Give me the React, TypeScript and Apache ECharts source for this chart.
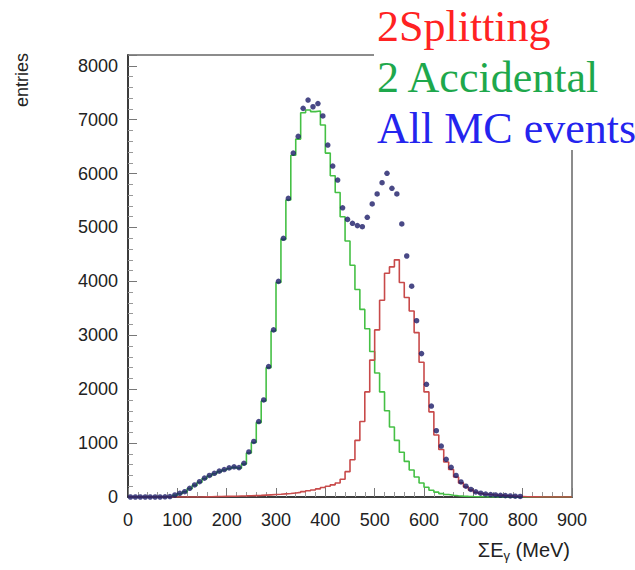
import React, { useEffect, useRef } from "react";
import * as echarts from "echarts";

// Histogram bins: 10 MeV wide, lower edges 0 .. 890
const BIN_WIDTH = 10;
const X_MAX = 900;

// 2 Splitting (red histogram), per bin
const splitting = [
  0, 0, 0, 0, 0, 0, 0, 0, 0, 0,
  0, 0, 0, 0, 0, 3, 5, 7, 9, 11,
  13, 15, 18, 20, 23, 26, 30, 35, 40, 45,
  50, 58, 65, 75, 85, 100, 115, 130, 150, 175,
  200, 225, 260, 330, 470, 690, 1050, 1400, 1950, 2540,
  3100, 3650, 4150, 4270, 4400, 3980, 3700, 3450, 3050, 2500,
  1950, 1580, 1150, 880, 650, 510, 370, 262, 185, 128,
  88, 65, 51, 42, 35, 30, 24, 18, 13, 9,
  5, 3, 2, 1, 0, 0, 0, 0, 0, 0,
];

// 2 Accidental (green histogram), per bin
const accidental = [
  0, 0, 0, 0, 0, 0, 0, 0, 0, 30,
  60, 95, 155, 215, 275, 340, 390, 430, 470, 500,
  530, 550, 535, 610, 815, 1010, 1380, 1780, 2400, 3080,
  3980, 4780, 5510, 6340, 6640, 7130, 7180, 7150, 7160, 6900,
  6380, 5960, 5650, 5200, 4750, 4300, 3850, 3480, 3120, 2700,
  2300, 1950, 1600, 1300, 1050, 830, 660, 500, 370, 260,
  180, 125, 90, 62, 45, 32, 24, 17, 12, 8,
  6, 4, 2, 1, 0, 0, 0, 0, 0, 0,
  0, 0, 0, 0, 0, 0, 0, 0, 0, 0,
];

// All MC events (points), per bin (bins 0 .. 790 MeV)
const allMC = [
  0, 0, 0, 0, 0, 0, 0, 3, 8, 37,
  68, 98, 161, 223, 284, 350, 400, 440, 480, 510,
  540, 560, 545, 625, 835, 1030, 1400, 1800, 2420, 3100,
  4000, 4800, 5540, 6380, 6690, 7210, 7365, 7240, 7300, 7070,
  6530, 6140, 5880, 5365, 5150, 5078, 5035, 5015, 5189, 5436,
  5622, 5831, 6006, 5727, 5622, 5065, 4471, 3910, 3270, 2660,
  2090, 1688, 1230, 946, 700, 550, 400, 280, 200, 140,
  95, 70, 55, 45, 38, 32, 26, 20, 15, 10,
];

const xTicks = [0, 100, 200, 300, 400, 500, 600, 700, 800, 900];
const yTicks = [0, 1000, 2000, 3000, 4000, 5000, 6000, 7000, 8000];

const legendItems = [
  { text: "2Splitting", color: "#ff2222" },
  { text: "2 Accidental", color: "#1ea84c" },
  { text: "All MC events", color: "#2424ee" },
];

function histSteps(values: number[]) {
  const pts: number[][] = values.map((v, i) => [i * BIN_WIDTH, v]);
  pts.push([values.length * BIN_WIDTH, values[values.length - 1]]);
  return pts;
}

export default function App() {
  const ref = useRef<HTMLDivElement>(null);

  useEffect(() => {
    if (!ref.current) return;
    const chart = echarts.init(ref.current, undefined, { renderer: "svg" });
    const sans = "Liberation Sans, Arial, sans-serif";
    const serif = "Liberation Serif, Times New Roman, serif";

    const option: any = {
      animation: false,
      backgroundColor: "#ffffff",
      grid: {
        left: 128,
        top: 55,
        width: 444,
        height: 442,
        show: true,
        borderColor: "#8c8c8c",
        borderWidth: 2,
        backgroundColor: "#ffffff",
      },
      xAxis: {
        type: "value",
        min: 0,
        max: X_MAX,
        interval: 100,
        splitLine: { show: false },
        axisLine: { show: true, lineStyle: { color: "#222", width: 1.5 } },
        axisTick: { show: true, inside: true, length: 9, lineStyle: { color: "#777" } },
        minorTick: { show: true, splitNumber: 5, length: 5, lineStyle: { color: "#999" } },
        axisLabel: {
          fontSize: 18,
          color: "#222",
          margin: 14,
          fontFamily: sans,
          formatter: (v: number) => (xTicks.includes(v) ? String(v) : ""),
        },
      },
      yAxis: {
        type: "value",
        min: 0,
        max: 8200,
        interval: 1000,
        splitLine: { show: false },
        axisLine: { show: true, lineStyle: { color: "#222", width: 1.5 } },
        axisTick: { show: true, inside: true, length: 9, lineStyle: { color: "#777" } },
        minorTick: { show: true, splitNumber: 5, length: 5, lineStyle: { color: "#999" } },
        axisLabel: {
          fontSize: 18,
          color: "#222",
          margin: 10,
          fontFamily: sans,
          formatter: (v: number) => (yTicks.includes(v) ? String(v) : ""),
        },
      },
      series: [
        {
          name: "2 Accidental",
          type: "line",
          step: "end",
          symbol: "none",
          data: histSteps(accidental),
          lineStyle: { color: "#45c045", width: 1.6 },
          z: 2,
        },
        {
          name: "2Splitting",
          type: "line",
          step: "end",
          symbol: "none",
          data: histSteps(splitting),
          lineStyle: { color: "#c84a4a", width: 1.6 },
          z: 3,
        },
        {
          name: "All MC events",
          type: "scatter",
          symbol: "circle",
          symbolSize: 5.5,
          data: allMC.map((v, i) => [i * BIN_WIDTH + BIN_WIDTH / 2, v]),
          itemStyle: { color: "#1c1c68" },
          z: 4,
        },
      ],
      graphic: [
        {
          type: "rect",
          shape: { x: 374, y: 0, width: 261, height: 150 },
          style: { fill: "#ffffff" },
          z: 100,
        },
        ...legendItems.map((it, i) => ({
          type: "text",
          x: 377,
          y: 26 + i * 51,
          z: 101,
          style: {
            text: it.text,
            fill: it.color,
            font: `44px ${serif}`,
            align: "left",
            verticalAlign: "middle",
          },
        })),
        {
          type: "text",
          x: 22,
          y: 80,
          rotation: Math.PI / 2,
          z: 101,
          style: {
            text: "entries",
            fill: "#222",
            font: `18px ${sans}`,
            align: "center",
            verticalAlign: "middle",
          },
        },
        {
          type: "text",
          x: 570,
          y: 550,
          z: 101,
          style: {
            text: "{a|ΣE}{b|γ}{a| (MeV)}",
            align: "right",
            verticalAlign: "middle",
            rich: {
              a: { fontSize: 20, fontFamily: sans, fill: "#222", color: "#222" },
              b: { fontSize: 13, fontFamily: sans, fill: "#222", color: "#222", padding: [11, 0, 0, 0] },
            },
          },
        },
      ],
    };

    chart.setOption(option);
    return () => chart.dispose();
  }, []);

  return (
    <div
      ref={ref}
      style={{ position: "fixed", left: 0, top: 0, width: 635, height: 570, background: "#fff" }}
    />
  );
}
